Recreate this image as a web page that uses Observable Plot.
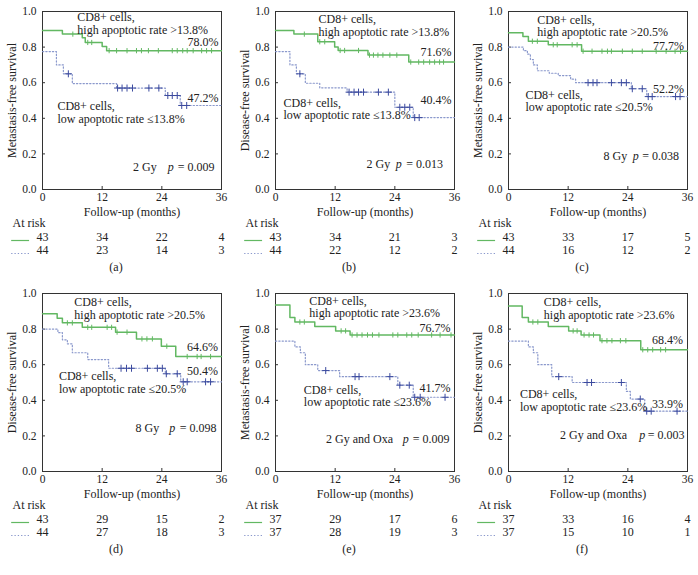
<!DOCTYPE html>
<html><head><meta charset="utf-8">
<script src="https://cdn.jsdelivr.net/npm/d3@7"></script>
<script src="https://cdn.jsdelivr.net/npm/@observablehq/plot@0.6"></script>
<style>
body{margin:0;background:#fff}
#chart{position:relative;width:698px;height:575px;background:#fff}
#chart svg{position:absolute;overflow:visible}
</style>
</head><body><div id="chart"></div>
<script>
// ---------- data ----------
const panelIds = ["a","b","c","d","e","f"];
const yTitles = ["Metastasis-free survival","Disease-free survival","Metastasis-free survival","Disease-free survival","Metastasis-free survival","Disease-free survival"];
const cutoffs = ["13.8%","13.8%","20.5%","20.5%","23.6%","23.6%"];
const treatments = ["2 Gy","2 Gy","8 Gy","8 Gy","2 Gy and Oxa","2 Gy and Oxa"];
const pValues = ["0.009","0.013","0.038","0.098","0.009","0.003"];
const highFinal = ["78.0%","71.6%","77.7%","64.6%","76.7%","68.4%"];
const lowFinal = ["47.2%","40.4%","52.2%","50.4%","41.7%","33.9%"];
const xTicks = [0,12,24,36];
const yTicks = [0,0.2,0.4,0.6,0.8,1.0];
const riskTimes = [0,12,24,36];
const riskHigh = [[43,34,22,4],[43,34,21,3],[43,33,17,5],[43,29,15,2],[37,29,17,6],[37,33,16,4]];
const riskLow  = [[44,23,14,3],[44,22,12,2],[44,16,12,2],[44,27,18,3],[37,28,19,3],[37,15,10,1]];

// step curves (time in months, survival) and censoring times
const highTimes = [
  [0,4,8,8.6,12,12.9,36],
  [0,3.7,8.5,11.9,12.6,18.6,26.8,36],
  [0,2.9,4.0,8.0,14.7,36],
  [0,2.95,4.0,8.0,14.7,18.9,23.9,26.8,36],
  [0,2.9,3.9,7.9,12.1,15.0,36],
  [0,2.75,4.0,8.0,12.1,14.6,18.4,26.6,36]
];
const highSurv = [
  [0.893,0.873,0.852,0.826,0.803,0.780,0.780],
  [0.893,0.873,0.83,0.80,0.781,0.755,0.716,0.716],
  [0.88,0.86,0.833,0.813,0.777,0.777],
  [0.886,0.861,0.835,0.81,0.783,0.745,0.704,0.646,0.646],
  [0.935,0.865,0.84,0.815,0.79,0.767,0.767],
  [0.93,0.865,0.84,0.815,0.79,0.767,0.735,0.684,0.684]
];
const highCensor = [
  [6.1,9.1,9.9,13.4,14.9,17.0,18.9,19.9,21.3,23.3,26.1,27.1,28.2,29.1,30.3,32.0,33.0,34.0],
  [5.8,8.9,9.9,13.0,13.9,16.7,18.9,19.7,20.6,21.6,23.0,24.4,27.2,28.8,29.8,31.0,32.0,33.0,33.8],
  [4.8,5.8,9.0,9.8,12.8,13.8,15.0,16.8,18.8,19.9,20.7,22.9,24.9,26.9,29.7,31.7,33.5,34.6],
  [5.0,6.0,9.1,9.9,13.0,13.9,15.0,17.0,20.0,21.0,22.1,25.0,29.1,31.1,31.9,33.8],
  [4.9,5.8,13.2,14.1,15.4,16.4,17.4,18.5,19.5,20.8,23.6,24.6,26.4,27.4,28.7,31.4,33.1,35.3],
  [4.9,5.9,13.0,13.8,15.2,16.2,17.1,18.8,19.8,20.8,22.5,23.6,27.0,28.0,29.0,30.6,31.6]
];
const lowTimes = [
  [0,2.8,4.2,6.0,14.9,24.7,27.7,36],
  [0,2.9,4.2,6.0,8.9,14.4,24.0,27.7,36],
  [0,3.0,3.8,4.4,5.0,5.8,8.2,10.0,12.5,13.5,24.7,27.8,36],
  [0,3.1,4.0,5.0,6.0,9.1,13.3,24.7,27.8,36],
  [0,3.9,5.0,6.0,8.5,12.9,24.6,27.7,36],
  [0,4.0,5.0,5.9,8.7,12.8,23.7,24.5,27.4,36]
];
const lowSurv = [
  [0.775,0.70,0.65,0.595,0.570,0.528,0.472,0.472],
  [0.775,0.70,0.65,0.597,0.571,0.547,0.462,0.404,0.404],
  [0.80,0.78,0.76,0.73,0.70,0.667,0.653,0.64,0.62,0.60,0.566,0.522,0.522],
  [0.80,0.78,0.74,0.717,0.667,0.629,0.58,0.549,0.504,0.504],
  [0.733,0.70,0.667,0.60,0.567,0.533,0.485,0.417,0.417],
  [0.733,0.70,0.667,0.60,0.533,0.50,0.45,0.407,0.339,0.339]
];
const lowCensor = [
  [5.2,15.1,16.0,17.0,18.1,21.4,23.4,25.2,26.1,27.1,28.0,29.0],
  [4.9,14.8,15.8,16.7,17.7,20.7,22.7,25.0,26.0,27.0,28.0,28.9],
  [16.0,17.0,17.8,20.7,22.7,23.7,24.9,26.9,28.1,28.9,33.6,34.5],
  [15.8,16.9,17.9,21.1,23.1,24.1,24.9,27.1,28.3,29.1,32.8,33.8],
  [10.1,16.0,16.8,23.0,25.0,26.9,28.0,29.1,34.1],
  [10.1,15.8,16.7,22.7,26.5,27.8,28.7,33.9]
];

// ---------- layout (annotation placement) ----------
const hiLabelPos = [[7.0,0.933],[8.65,0.921],[5.8,0.918],[6.4,0.917],[6.8,0.924],[7.1,0.917]];
const loLabelPos = [[3.0,0.433],[1.6,0.452],[3.4,0.497],[3.3,0.499],[5.7,0.424],[2.3,0.40]];
const pctX = [35.4,35.4,35.3,35.3,35.2,35.1];
const hiPctY = [0.826,0.770,0.808,0.698,0.808,0.74];
const loPctY = [0.511,0.50,0.562,0.562,0.47,0.376];
const treatX = [20.6,20.7,21.5,21.1,16.9,17.1];
const pX = [25.8,24.8,25.6,26.1,26.2,26.9];
const eqX = [27.2,26.3,26.9,27.6,27.6,28.0];
const treatY = [0.124,0.14,0.187,0.243,0.184,0.202];

const GREEN = "#62b862", BLUE_LINE = "#8a98cc", BLUE_MARK = "#3b4a9e", INK = "#222";
const FONT = "'Liberation Serif', 'DejaVu Serif', serif";
const FS = 12;      // annotation font size
const FT = 11.5;    // tick font size

const tickSymbol = {draw(ctx, size){ const r = Math.sqrt(size/Math.PI); ctx.moveTo(0,-r); ctx.lineTo(0,r); }};

function survAt(times, surv, t){ let s = surv[0]; for (let i=0;i<times.length;i++){ if (times[i] <= t) s = surv[i]; } return s; }

const chart = document.getElementById("chart");
const PW = 233, PH = 282;

panelIds.forEach((id, i) => {
  const hi = highTimes[i].map((t,k)=>({t, s: highSurv[i][k]}));
  const lo = lowTimes[i].map((t,k)=>({t, s: lowSurv[i][k]}));
  const hiC = highCensor[i].map(t=>({t, s: survAt(highTimes[i], highSurv[i], t)}));
  const loC = lowCensor[i].map(t=>({t, s: survAt(lowTimes[i], lowSurv[i], t)}));
  const rows = riskTimes.map((t,k)=>({t, h: riskHigh[i][k], l: riskLow[i][k]}));
  const svg = Plot.plot({
    width: PW, height: PH,
    marginLeft: 42, marginRight: 12, marginTop: 11, marginBottom: 93,
    style: {fontFamily: FONT, fontSize: FT + "px", color: INK, background: "transparent", overflow: "visible"},
    x: {domain: [0,36]},
    y: {domain: [0,1]},
    marks: [
      Plot.frame({stroke: "#333", strokeWidth: 1}),
      Plot.axisX({ticks: xTicks, tickSize: 0, tickPadding: 3, label: null, fontSize: FT}),
      Plot.axisX({ticks: xTicks, tickSize: 3, dy: -3, text: null, label: null, stroke: "#333"}),
      Plot.axisY({ticks: yTicks, tickFormat: d3.format(".1f"), tickSize: 0, tickPadding: 6, label: null, fontSize: FT}),
      Plot.axisY({ticks: yTicks, tickSize: 3, dx: 3, text: null, label: null, stroke: "#333"}),
      Plot.text([yTitles[i]], {frameAnchor: "left", textAnchor: "middle", rotate: -90, dx: -30, fontSize: FS, fill: INK}),
      Plot.text(["Follow-up (months)"], {frameAnchor: "bottom", textAnchor: "middle", dy: 26, fontSize: FS, fill: INK}),
      Plot.line(lo, {x: "t", y: "s", curve: "step-after", stroke: BLUE_LINE, strokeWidth: 1.2, strokeDasharray: "1.3,2"}),
      Plot.line(hi, {x: "t", y: "s", curve: "step-after", stroke: GREEN, strokeWidth: 1.5}),
      Plot.dot(hiC, {x: "t", y: "s", symbol: tickSymbol, r: 2.6, stroke: GREEN, strokeWidth: 1, fill: "none"}),
      Plot.dot(loC, {x: "t", y: "s", symbol: "plus", r: 2.4, stroke: BLUE_MARK, strokeWidth: 1}),
      Plot.text([`CD8+ cells,\nhigh apoptotic rate >${cutoffs[i]}`], {x: hiLabelPos[i][0], y: hiLabelPos[i][1], textAnchor: "start", lineAnchor: "middle", lineHeight: 1.05, fontSize: FS, fill: INK}),
      Plot.text([`CD8+ cells,\nlow apoptotic rate \u2264${cutoffs[i]}`], {x: loLabelPos[i][0], y: loLabelPos[i][1], textAnchor: "start", lineAnchor: "middle", lineHeight: 1.05, fontSize: FS, fill: INK}),
      Plot.text([highFinal[i]], {x: pctX[i], y: hiPctY[i], textAnchor: "end", fontSize: FS, fill: INK}),
      Plot.text([lowFinal[i]], {x: pctX[i], y: loPctY[i], textAnchor: "end", fontSize: FS, fill: INK}),
      Plot.text([treatments[i]], {x: treatX[i], y: treatY[i], fontSize: FS, fill: INK}),
      Plot.text(["p"], {x: pX[i], y: treatY[i], fontSize: FS, fontStyle: "italic", fill: INK}),
      Plot.text([`= ${pValues[i]}`], {x: eqX[i], y: treatY[i], textAnchor: "start", fontSize: FS, fill: INK}),
      // at-risk table
      Plot.text(["At risk"], {frameAnchor: "bottom-left", dx: -30, dy: 37, textAnchor: "start", fontSize: FS, fill: INK}),
      Plot.ruleY([0], {x1: -6.2, x2: -2.6, dy: 51, stroke: GREEN, strokeWidth: 1.2}),
      Plot.ruleY([0], {x1: -6.2, x2: -2.6, dy: 64, stroke: BLUE_LINE, strokeWidth: 1.2, strokeDasharray: "1.3,2"}),
      Plot.text(rows, {x: "t", frameAnchor: "bottom", textAnchor: "middle", dy: 51, text: "h", fontSize: FS, fill: INK}),
      Plot.text(rows, {x: "t", frameAnchor: "bottom", textAnchor: "middle", dy: 64, text: "l", fontSize: FS, fill: INK}),
      Plot.text([`(${id})`], {frameAnchor: "bottom", textAnchor: "middle", dx: -16, dy: 81, fontSize: FS, fill: INK})
    ]
  });
  svg.style.left = ((i % 3) * PW) + "px";
  svg.style.top = (Math.floor(i / 3) * PH) + "px";
  chart.appendChild(svg);
});
</script></body></html>
